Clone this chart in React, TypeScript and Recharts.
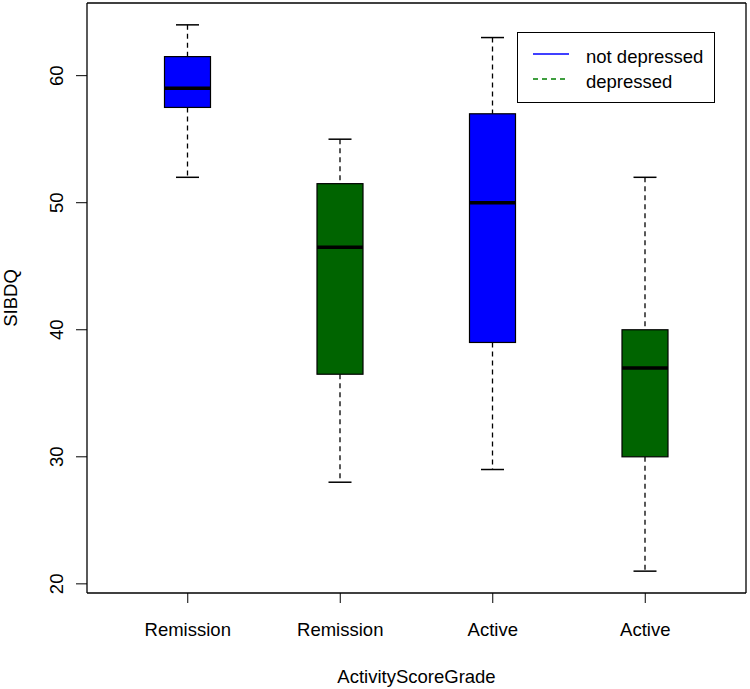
import React from 'react';
import { ComposedChart, Bar, XAxis, YAxis, Legend } from 'recharts';

const categories = ['Remission', 'Remission', 'Active', 'Active'];
const groups = ['not depressed', 'depressed', 'not depressed', 'depressed'];
const mins = [52, 28, 29, 21];
const q1s = [57.5, 36.5, 39, 30];
const medians = [59, 46.5, 50, 37];
const q3s = [61.5, 51.5, 57, 40];
const maxs = [64, 55, 63, 52];
const yTicks = [20, 30, 40, 50, 60];
const legendItems = ['not depressed', 'depressed'];
const groupColors: Record<string, string> = { 'not depressed': '#0000FF', depressed: '#006400' };
const legendLineColors: Record<string, string> = { 'not depressed': '#0000FF', depressed: '#008000' };

const data = categories.map((c, i) => ({
  key: 'g' + i,
  label: c,
  group: groups[i],
  min: mins[i],
  q1: q1s[i],
  median: medians[i],
  q3: q3s[i],
  max: maxs[i],
}));

const FONT = '"Liberation Sans", Arial, sans-serif';
const FS = 18.5;
const Y_DOMAIN: [number, number] = [19.28, 65.72];

const BoxShape = (props: any) => {
  const { x, y, width, height, payload } = props;
  if (payload == null) return null;
  const top = Math.min(y, y + height);
  const bottom = Math.max(y, y + height);
  const span = payload.max - payload.min;
  const px = (v: number) => bottom - ((v - payload.min) / span) * (bottom - top);
  const cx = x + width / 2;
  const hw = width / 2;
  const cap = width / 4;
  const yq1 = px(payload.q1);
  const yq3 = px(payload.q3);
  const ymed = px(payload.median);
  const ymin = px(payload.min);
  const ymax = px(payload.max);
  return (
    <g>
      <line x1={cx} x2={cx} y1={ymax} y2={yq3} stroke="#000" strokeWidth={1.3} strokeDasharray="5,4" />
      <line x1={cx} x2={cx} y1={yq1} y2={ymin} stroke="#000" strokeWidth={1.3} strokeDasharray="5,4" />
      <line x1={cx - cap} x2={cx + cap} y1={ymax} y2={ymax} stroke="#000" strokeWidth={1.5} />
      <line x1={cx - cap} x2={cx + cap} y1={ymin} y2={ymin} stroke="#000" strokeWidth={1.5} />
      <rect x={cx - hw} y={yq3} width={width} height={yq1 - yq3} fill={groupColors[payload.group]} stroke="#000" strokeWidth={1.2} />
      <line x1={cx - hw} x2={cx + hw} y1={ymed} y2={ymed} stroke="#000" strokeWidth={3.5} />
    </g>
  );
};

const XTick = (props: any) => {
  const { x, y, payload } = props;
  const d = data[payload.index] || data.find((e) => e.key === payload.value);
  return (
    <text x={x} y={y} dy={31} textAnchor="middle" fontFamily={FONT} fontSize={FS} fill="#000">
      {d ? d.label : ''}
    </text>
  );
};

const YTick = (props: any) => {
  const { y, payload } = props;
  const bx = 63;
  return (
    <text x={bx} y={y} transform={`rotate(-90, ${bx}, ${y})`} textAnchor="middle" fontFamily={FONT} fontSize={FS} fill="#000">
      {payload.value}
    </text>
  );
};

const LegendContent = () => (
  <svg width={198} height={71} style={{ display: 'block' }}>
    <rect x={0.5} y={0.5} width={197} height={70} fill="#fff" stroke="#000" strokeWidth={1} />
    {legendItems.map((g, i) => (
      <g key={g}>
        <line x1={16} x2={52} y1={22 + i * 25} y2={22 + i * 25} stroke={legendLineColors[g]} strokeWidth={1.3} strokeDasharray={i === 1 ? '5,4' : undefined} />
        <text x={69} y={31 + i * 25} fontFamily={FONT} fontSize={FS} fill="#000">{g}</text>
      </g>
    ))}
  </svg>
);

const frameLine = { stroke: '#000', strokeWidth: 1.3 };

export default function App() {
  return (
    <div style={{ position: 'absolute', left: 0, top: 0, width: 750, height: 689, background: '#fff' }}>
      <ComposedChart width={750} height={689} data={data} margin={{ top: 2, right: 3, bottom: 0, left: 0 }}>
        <XAxis
          dataKey="key"
          height={96}
          padding={{ left: 24.5, right: 24.5 }}
          tickSize={10}
          tickLine={{ stroke: '#000' }}
          axisLine={frameLine}
          tick={<XTick />}
          interval={0}
          label={({ viewBox }: any) => (
            <text x={viewBox.x + viewBox.width / 2} y={viewBox.y + 90} textAnchor="middle" fontFamily={FONT} fontSize={FS} fill="#000">
              ActivityScoreGrade
            </text>
          )}
        />
        <XAxis
          xAxisId="top"
          orientation="top"
          dataKey="key"
          height={1}
          padding={{ left: 24.5, right: 24.5 }}
          tick={false}
          tickLine={false}
          axisLine={frameLine}
        />
        <YAxis
          type="number"
          domain={Y_DOMAIN}
          allowDataOverflow
          ticks={yTicks}
          width={87}
          tickSize={11}
          tickLine={{ stroke: '#000' }}
          axisLine={frameLine}
          tick={<YTick />}
          interval={0}
          label={({ viewBox }: any) => {
            const lx = 17;
            const ly = viewBox.y + viewBox.height / 2;
            return (
              <text x={lx} y={ly} transform={`rotate(-90, ${lx}, ${ly})`} textAnchor="middle" fontFamily={FONT} fontSize={FS} fill="#000">
                SIBDQ
              </text>
            );
          }}
        />
        <YAxis
          yAxisId="right"
          orientation="right"
          type="number"
          domain={Y_DOMAIN}
          allowDataOverflow
          width={1}
          tick={false}
          tickLine={false}
          axisLine={frameLine}
        />
        <Bar dataKey={(d: any) => [d.min, d.max]} barSize={46} shape={<BoxShape />} isAnimationActive={false} />
        <Legend
          layout="vertical"
          align="center"
          verticalAlign="middle"
          content={<LegendContent />}
          wrapperStyle={{ position: 'absolute', left: 517, top: 32, width: 198, height: 71 }}
        />
      </ComposedChart>
    </div>
  );
}
